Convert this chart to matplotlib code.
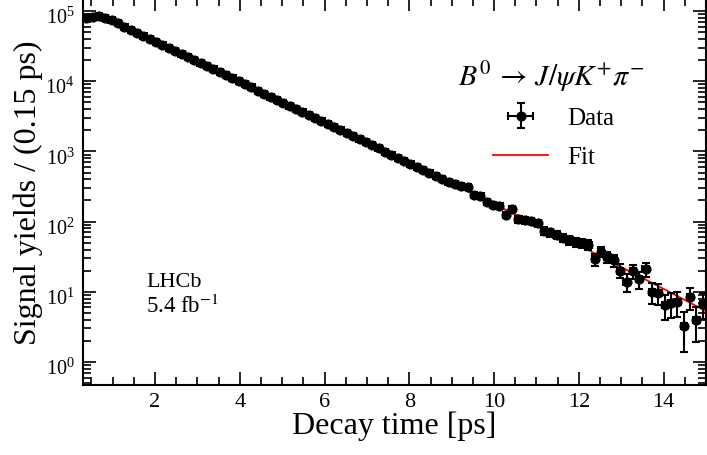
import numpy as np
import matplotlib
matplotlib.use("Agg")
import matplotlib.pyplot as plt
import matplotlib.transforms as mtransforms
from matplotlib.ticker import MultipleLocator, LogLocator, NullFormatter

# binning: 0.15 ps bins from 0.3 to 15 ps
t_lo, t_hi, t_bin = 0.3, 15.0, 0.15

counts = [
    80000, 83000, 83500, 79500, 73500, 66500, 59500, 53000, 48800, 44200,
    40000, 36200, 32700, 29600, 26800, 24300, 22000, 19900, 18100, 16400,
    14900, 13500, 12200, 11000, 9950, 9000, 8150, 7350, 6650, 6000,
    5450, 4930, 4460, 4040, 3650, 3300, 2990, 2700, 2450, 2210,
    2000, 1810, 1640, 1490, 1345, 1215, 1100, 995, 900, 815,
    740, 670, 605, 548, 496, 449, 406, 368, 340, 322,
    312, 240, 230, 188, 174, 168, 124, 152, 108, 104,
    101, 95, 74, 70, 65, 59, 54, 51, 49, 47,
    29, 37, 31, 28, 20, 14, 19.5, 15, 21, 10,
    9.7, 6.5, 6.9, 7.2, 3.3, 8.5, 4.0, 6.8,
]
errors = [
    300, 300, 300, 290, 280, 270, 250, 240, 230, 220,
    210, 200, 190, 180, 170, 160, 155, 145, 140, 135,
    125, 120, 115, 110, 105, 100, 95, 90, 85, 82,
    78, 74, 70, 67, 63, 60, 57, 54, 52, 49,
    47, 45, 42, 40, 38, 36, 35, 33, 31, 30,
    28, 27, 26, 25, 23, 22, 21, 20, 19, 19,
    18, 16, 16, 14, 14, 13, 11, 13, 11, 11,
    10, 10, 9, 9, 8, 8, 7.5, 7, 7, 7,
    5.5, 6, 5.5, 5.5, 4.5, 4, 4.5, 4, 4.5, 3.3,
    3.2, 2.6, 2.7, 2.8, 1.9, 3.0, 2.1, 2.7,
]

fit_t = [0.3, 0.45, 0.6, 0.75, 0.9, 1.05, 1.2, 1.5, 2.0, 2.5, 3.0, 4.0,
         5.0, 6.0, 7.0, 8.0, 9.0, 10.0, 11.0, 12.0, 13.0, 14.0, 15.0]
fit_y = [78000, 81000, 83000, 82000, 77000, 70000, 63000, 51500, 37000, 26500,
         19000, 9700, 5000, 2550, 1300, 670, 345, 177, 91, 46, 22.5, 11, 5.3]

plt.rcParams["font.family"] = ["Liberation Serif", "DejaVu Serif"]
plt.rcParams["mathtext.fontset"] = "stix"

fig = plt.figure(figsize=(7.07, 4.56), dpi=100)
ax = fig.add_axes([83 / 707, 70 / 456, 623 / 707, 387 / 456])

t = np.arange(t_lo + t_bin / 2, t_hi, t_bin)
ax.plot(fit_t, fit_y, color="red", lw=1.3, zorder=2, label="Fit")
ax.errorbar(t, counts, yerr=errors, xerr=t_bin / 2, fmt="o", color="black",
            ms=6.3, elinewidth=1.5, capsize=3.2, capthick=1.5, zorder=3,
            label="Data")

ax.set_yscale("log")
ax.set_xlim(t_lo, t_hi)
ax.set_ylim(0.47, 1.53e5)

ax.xaxis.set_major_locator(MultipleLocator(2))
ax.xaxis.set_minor_locator(MultipleLocator(0.5))
ax.yaxis.set_major_locator(LogLocator(base=10, numticks=10))
ax.yaxis.set_minor_locator(LogLocator(base=10, subs=np.arange(2, 10), numticks=20))
ax.yaxis.set_minor_formatter(NullFormatter())
ax.tick_params(which="both", direction="in", top=True, right=True, width=1.2)
ax.tick_params(which="major", length=9.5)
ax.tick_params(which="minor", length=6)
ax.tick_params(axis="x", labelsize=16, pad=5)
ax.tick_params(axis="y", labelsize=14.5, pad=6)
for s in ax.spines.values():
    s.set_linewidth(1.5)

# superscript labels sit a little low in the original
shift = mtransforms.ScaledTranslation(0, -4 / 100, fig.dpi_scale_trans)
for lbl in ax.get_yticklabels():
    lbl.set_transform(lbl.get_transform() + shift)

ax.set_xlabel("Decay time [ps]", fontsize=23, labelpad=0)
ax.set_ylabel("Signal yields / (0.15 ps)", fontsize=23, labelpad=2)

ax.text(0.101, 0.256, "LHCb", transform=ax.transAxes, fontsize=16, va="baseline")
ax.text(0.101, 0.189, r"5.4 fb$^{-1}$", transform=ax.transAxes, fontsize=16.5,
        va="baseline")
ax.text(0.602, 0.775, r"$B^0 \,\rightarrow\, J/\psi K^{+}\pi^{-}$",
        transform=ax.transAxes, fontsize=21.5, va="baseline")

h, l = ax.get_legend_handles_labels()
ax.legend(h[::-1], l[::-1], loc="upper left", bbox_to_anchor=(493 / 707, 1 - 108 / 456),
          bbox_transform=fig.transFigure, frameon=False, fontsize=18,
          handlelength=2.2, handletextpad=0.75, labelspacing=0.65, borderpad=0,
          borderaxespad=0)

fig.savefig("out.png", dpi=100)
